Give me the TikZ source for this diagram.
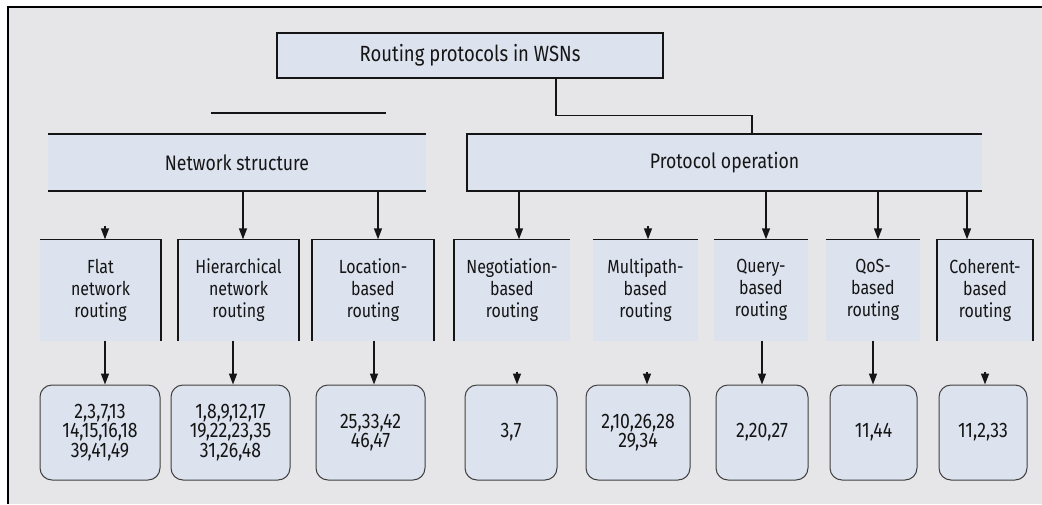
\documentclass[tikz,border=0pt]{standalone}
\usepackage{fontspec}
\setmainfont{Fira Sans}[FakeStretch=0.84]
\usetikzlibrary{arrows.meta}
\definecolor{boxfill}{HTML}{DCE2EE}
\definecolor{bggray}{HTML}{E6E6E8}
\definecolor{inkgray}{HTML}{151515}

\tikzset{
  catbox/.style={fill=boxfill, minimum height=57pt, inner sep=0pt,
    text=inkgray, font=\fontsize{21}{23}\selectfont},
  kindbox/.style={fill=boxfill, minimum height=101pt, inner sep=0pt,
    align=center, text=inkgray, font=\fontsize{19}{22}\selectfont},
  refbox/.style={fill=boxfill, draw=black!75, line width=1pt,
    rounded corners=12pt, minimum height=95pt, inner sep=0pt,
    align=center, text=inkgray, font=\fontsize{21}{19.5}\selectfont},
  link/.style={line width=1.4pt, draw=inkgray},
  arr/.style={link, -{Triangle[length=11pt,width=8pt]}},
  rim/.style={line width=1.6pt, draw=inkgray},
}

\begin{document}
\begin{tikzpicture}[x=1pt, y=-1pt]
  \useasboundingbox (0,0) rectangle (1042,504);
  \fill[bggray] (8,7) rectangle (1042,504);
  \draw[line width=2pt] (8,504) -- (8,7) -- (1042,7);

  % root and the two families
  \node[fill=boxfill, draw=inkgray, line width=2.6pt, minimum width=386pt,
    minimum height=45pt, inner sep=0pt, text=inkgray,
    font=\fontsize{22}{24}\selectfont] (root) at (470,55.5) {Routing protocols in WSNs};
  \node[catbox, minimum width=378pt] (net) at (237,162.5)   {Network structure};
  \node[catbox, minimum width=515pt] (pro) at (724.5,162.5) {Protocol operation};

  % kinds of routing
  \node[kindbox, minimum width=121pt] (flat)  at (100.5,290) {Flat\\network\\routing};
  \node[kindbox, minimum width=121pt] (hier)  at (238.5,290) {Hierarchical\\network\\routing};
  \node[kindbox, minimum width=122pt] (loc)   at (373,290)   {Location-\\based\\routing};
  \node[kindbox, minimum width=116pt] (nego)  at (512,290)   {Negotiation-\\based\\routing};
  \node[kindbox, minimum width=105pt] (multi) at (645.5,290) {Multipath-\\based\\routing};
  \node[kindbox, minimum width=94pt]  (query) at (761,290)   {Query-\\based\\routing};
  \node[kindbox, minimum width=94pt]  (qos)   at (873,290)   {QoS-\\based\\routing};
  \node[kindbox, minimum width=96pt]  (coh)   at (985,290)   {Coherent-\\based\\routing};

  % references
  \node[refbox, minimum width=120pt] (flatref)  at (100,432.5)   {2,3,7,13\\14,15,16,18\\39,41,49};
  \node[refbox, minimum width=119pt] (hierref)  at (230.5,432.5) {1,8,9,12,17\\19,22,23,35\\31,26,48};
  \node[refbox, minimum width=109pt] (locref)   at (370.5,432.5) {25,33,42\\46,47};
  \node[refbox, minimum width=92pt]  (negoref)  at (511,432.5)   {3,7};
  \node[refbox, minimum width=104pt] (multiref) at (638,432.5)   {2,10,26,28\\29,34};
  \node[refbox, minimum width=92pt]  (queryref) at (762,432.5)   {2,20,27};
  \node[refbox, minimum width=87pt]  (qosref)   at (873.5,432.5) {11,44};
  \node[refbox, minimum width=88pt]  (cohref)   at (983,432.5)   {11,2,33};

  % box edges
  \draw[rim] (net.north west) -- (net.north east) (net.south west) -- (net.south east);
  \draw[rim] (pro.north east) -- (pro.north west) -- (pro.south west) -- (pro.south east);
  \draw[rim] (flat.north west) -- (flat.north east) -- (flat.south east);
  \draw[rim] (hier.south west) -- (hier.north west) -- (hier.north east) -- (hier.south east);
  \draw[rim] (loc.south west) -- (loc.north west) -- (loc.north east) -- (loc.south east);
  \draw[rim] (nego.south west) -- (nego.north west) -- (nego.north east);
  \draw[rim] (multi.north west) -- (multi.north east);
  \draw[rim] (query.north west) -- (query.north east);
  \draw[rim] (qos.north west) -- (qos.north east);
  \draw[rim] (coh.south west) -- (coh.north west) -- (coh.north east) -- (coh.south east);

  % connectors
  \draw[link] ([xshift=86]root.south) -- ++(0,36) -| ([xshift=27.5]pro.north);
  \draw[link] (211,113) -- (386,113);

  \draw[arr] ([xshift=4.5]hier.north |- net.south) -- ([xshift=4.5]hier.north);
  \draw[arr] ([xshift=5]loc.north |- net.south)    -- ([xshift=5]loc.north);
  \draw[arr] ([xshift=7]nego.north |- pro.south)   -- ([xshift=7]nego.north);
  \draw[arr] ([xshift=5]query.north |- pro.south)  -- ([xshift=5]query.north);
  \draw[arr] ([xshift=5]qos.north |- pro.south)    -- ([xshift=5]qos.north);
  \draw[arr] ([xshift=-18]coh.north |- pro.south)  -- ([xshift=-18]coh.north);
  \draw[arr] ([xshift=4.5]flat.north) ++(0,-13) -- ++(0,13);
  \draw[arr] ([xshift=2.5]multi.north) ++(0,-13) -- ++(0,13);

  \draw[arr] ([xshift=4.5]flat.south)  -- ([xshift=5]flatref.north);
  \draw[arr] ([xshift=-5.5]hier.south) -- ([xshift=2.5]hierref.north);
  \draw[arr] ([xshift=1]loc.south)     -- ([xshift=3.5]locref.north);
  \draw[arr] ([xshift=1]query.south)   -- (queryref.north);
  \draw[arr] (qos.south)               -- ([xshift=-0.5]qosref.north);
  \draw[arr] ([xshift=6]negoref.north) ++(0,-13) -- ++(0,13);
  \draw[arr] ([xshift=9]multiref.north) ++(0,-13) -- ++(0,13);
  \draw[arr] ([xshift=2]cohref.north) ++(0,-13) -- ++(0,13);
\end{tikzpicture}
\end{document}
